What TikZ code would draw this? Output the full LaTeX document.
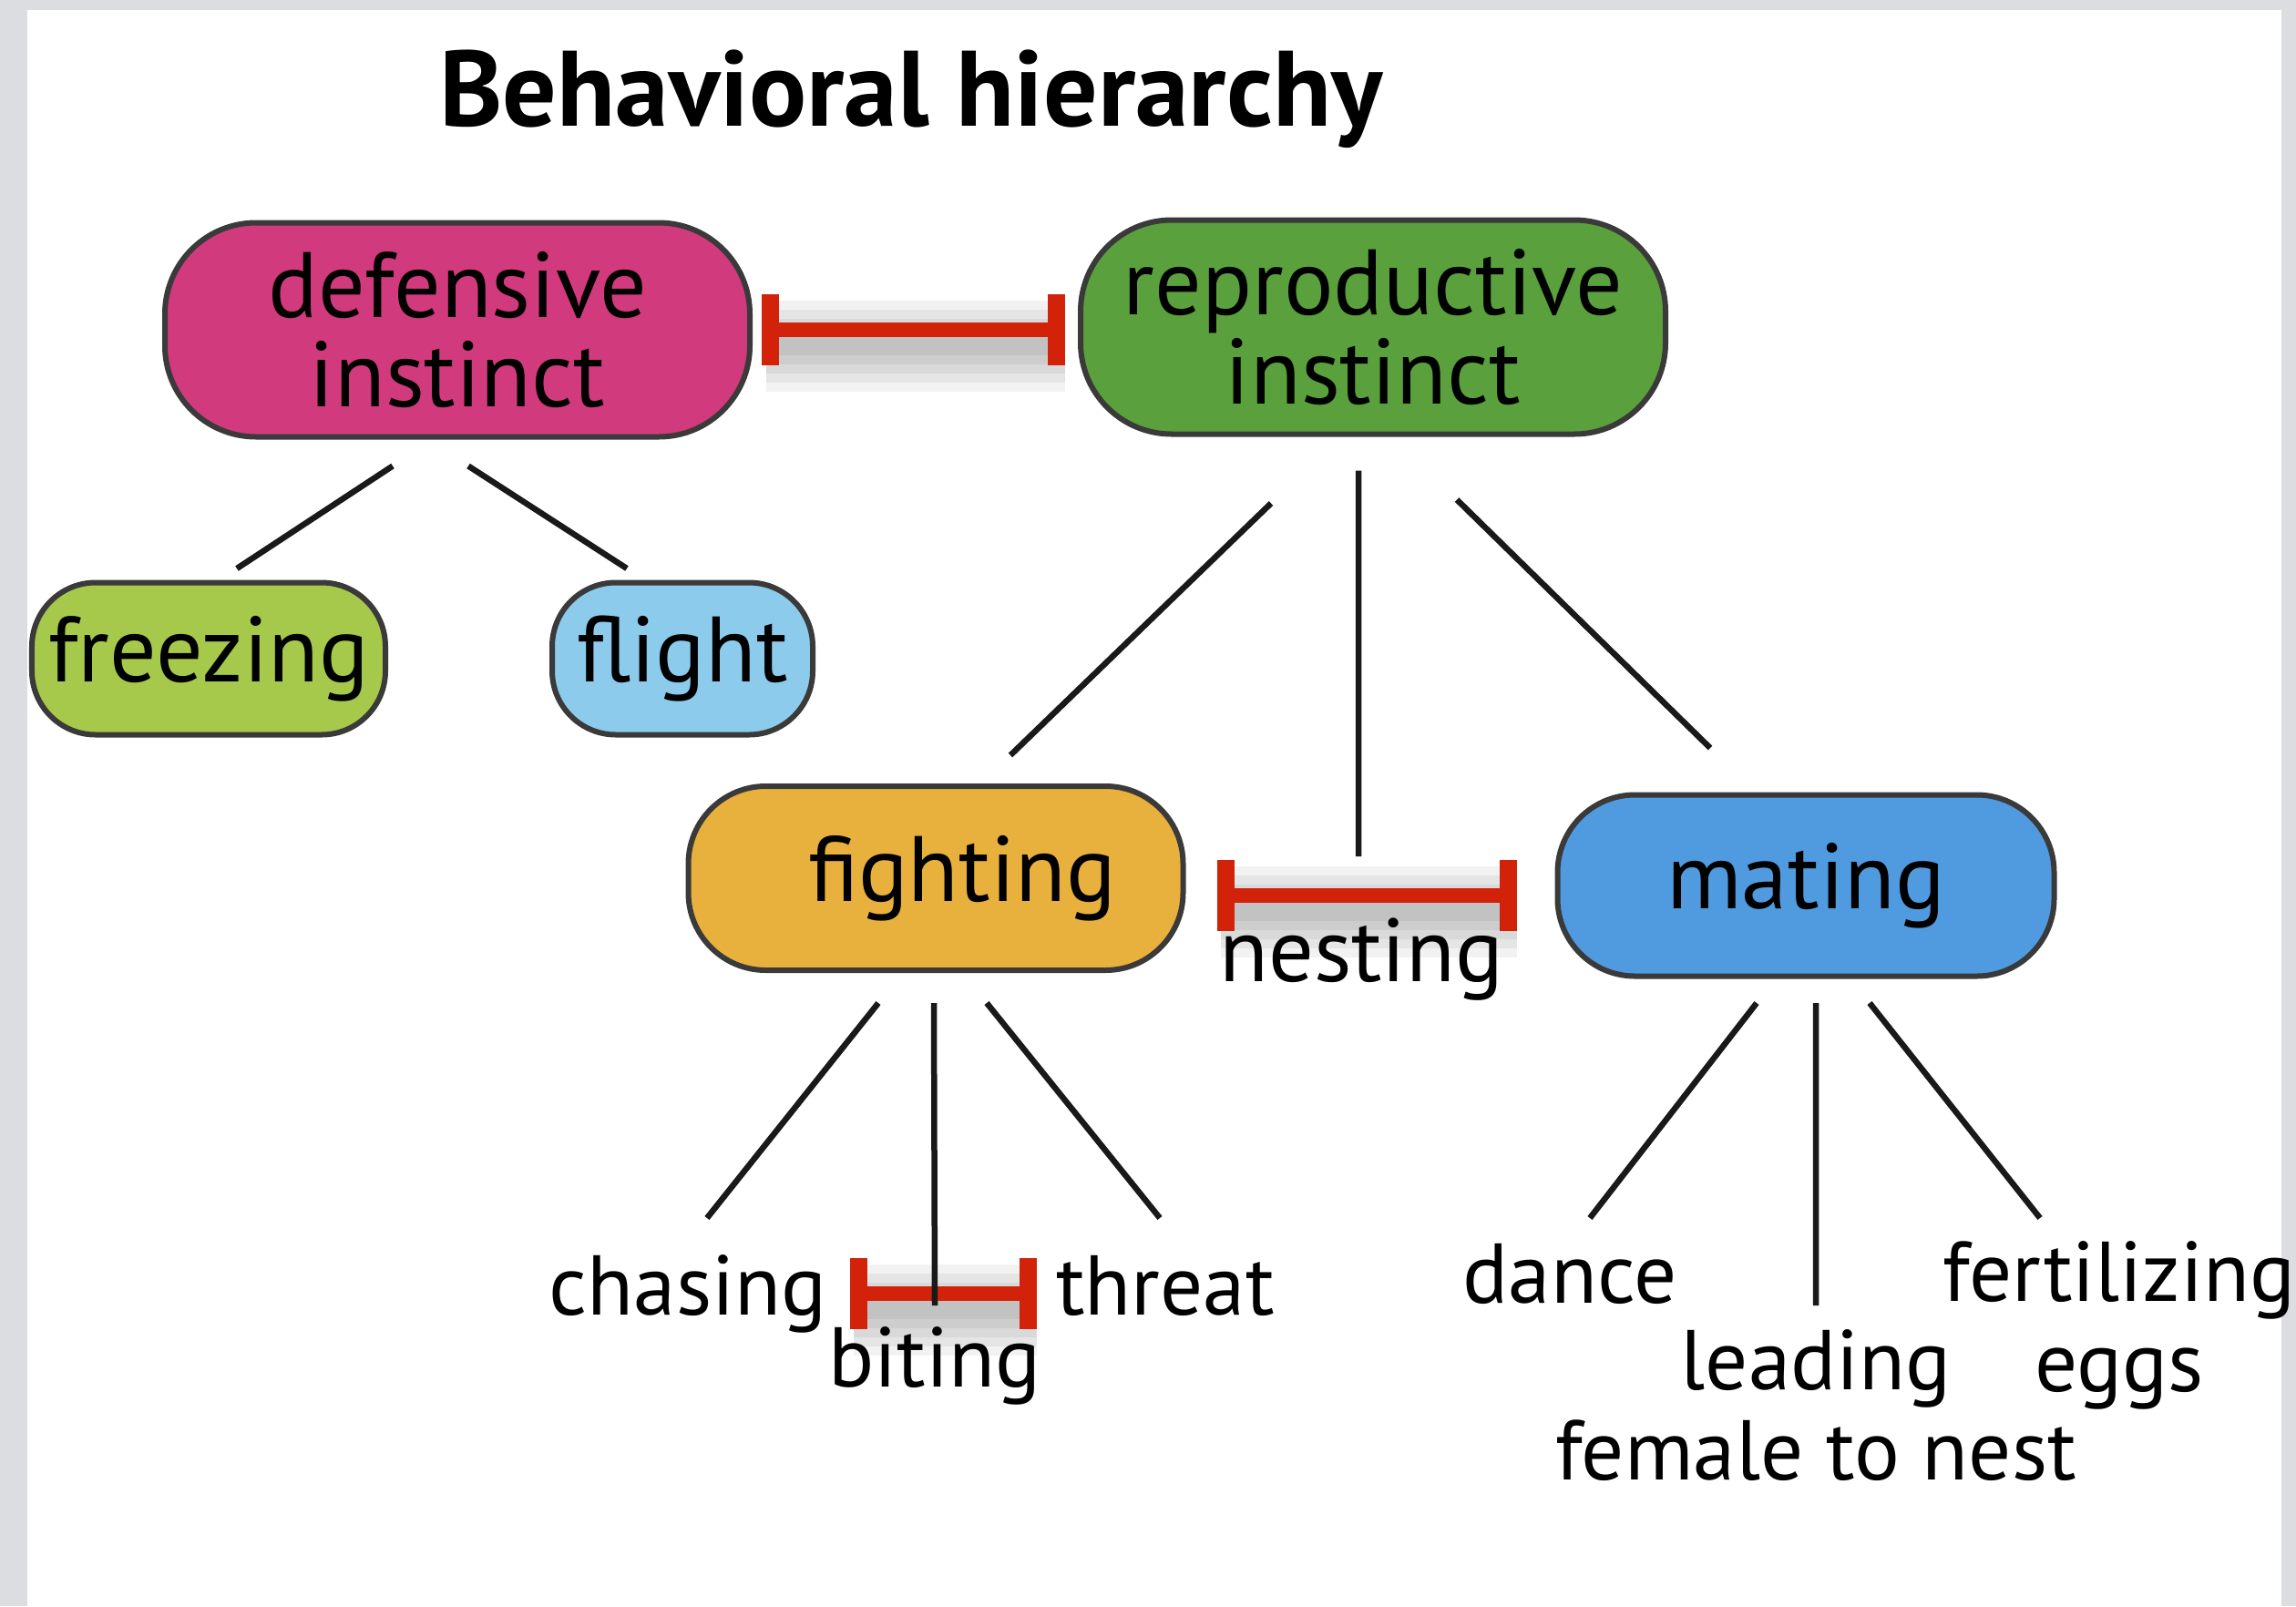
\documentclass[tikz,border=0pt]{standalone}
\usepackage{fontspec}
\setmainfont{PT Sans}
\usetikzlibrary{positioning, arrows.meta, shapes.geometric}

\definecolor{framegray}{HTML}{DCDDE0}
\definecolor{defcol}{HTML}{D13A7C}
\definecolor{repcol}{HTML}{5AA03C}
\definecolor{freezecol}{HTML}{A6C94C}
\definecolor{flightcol}{HTML}{8CCBEB}
\definecolor{fightcol}{HTML}{E8B03C}
\definecolor{matecol}{HTML}{509BE0}
\definecolor{barred}{HTML}{D2230A}
\definecolor{edge}{HTML}{3A3A3A}

\begin{document}
\begin{tikzpicture}[
    instinct/.style={rectangle, rounded corners=1cm, draw=edge, line width=0.6mm,
                 minimum width=6.42cm, minimum height=2.35cm, align=center, inner sep=0pt,
                 font=\fontsize{29}{28}\selectfont},
    behav/.style={rectangle, rounded corners=0.85cm, draw=edge, line width=0.6mm,
                 minimum height=2cm, inner sep=0pt, font=\fontsize{29}{28}\selectfont},
    act/.style={inner sep=0pt, anchor=base, font=\fontsize{26.5}{28}\selectfont},
    link/.style={draw=black!90, line width=0.65mm},
    inhibit/.style={draw=barred, line width=1.6mm,
                 {Bar[width=7.8mm, line width=1.9mm]}-{Bar[width=7.8mm, line width=1.9mm]}},
    barshade/.style={draw=black, opacity=0.05, line width=#1, transform canvas={yshift=-1.8mm}}
]
\useasboundingbox (0,0) rectangle (25.2,-17.63);

% --- Marco ---
\fill[framegray] (0,0) rectangle (25.2,-17.63);
\fill[white] (0.30,-0.11) rectangle (25.04,-17.63);

% --- Titulo ---
\node[act, font=\fontsize{33.5}{34}\selectfont\bfseries] (title) at (10.0,-1.38) {Behavioral hierarchy};

% --- Instintos ---
\node[instinct, fill=defcol] (defensive) at (5.02,-3.62) {defensive\\instinct};
\node[instinct, fill=repcol] (reproductive) at (15.07,-3.59) {reproductive\\instinct};

% --- Conductas ---
\node[behav, fill=freezecol, minimum width=3.88cm, minimum height=1.67cm, rounded corners=0.7cm] (freezing) at (2.29,-7.23) {freezing};
\node[behav, fill=flightcol, minimum width=2.86cm, minimum height=1.67cm, rounded corners=0.7cm] (flight) at (7.49,-7.23) {flight};
\node[behav, fill=fightcol, minimum width=5.43cm, minimum height=2.02cm] (fighting) at (10.27,-9.64) {\hspace*{0.58cm}fighting};
\node[behav, fill=matecol, minimum width=5.45cm, minimum height=1.99cm] (mating) at (19.82,-9.72) {mating};

% --- Actos ---
\node[act, font=\fontsize{28}{28}\selectfont] (nesting) at (14.94,-10.77) {nesting};
\node[act] (chasing) at (7.55,-14.43) {chasing};
\node[act] (biting) at (10.26,-15.22) {biting};
\node[act] (threat) at (12.79,-14.43) {threat};
\node[act] (dance) at (17.23,-14.30) {dance};
\node[act, anchor=north, align=center] (leading) at (19.93,-14.59) {leading\\female to nest};
\node[act, anchor=north, align=center] (fertilizing) at (23.26,-13.62) {fertilizing\\eggs};

% --- Inhibiciones ---
\foreach \w in {2,4,6,8,10} {
  \draw[barshade=\w mm] ([xshift=1.5mm]defensive.east) -- ([xshift=-1.4mm]defensive.east -| reproductive.west);
  \draw[barshade=\w mm] ([shift={(0.38,-0.19)}]fighting.east) -- ([shift={(-0.42,-0.19)}]fighting.east -| mating.west);
  \draw[barshade=\w mm] ([xshift=2.9mm]chasing.east) -- ([xshift=-2.1mm]chasing.east -| threat.west);
}
\draw[inhibit] ([xshift=1mm]defensive.east) -- ([xshift=-1.4mm]defensive.east -| reproductive.west);
\draw[inhibit] ([shift={(0.34,-0.19)}]fighting.east) -- ([shift={(-0.42,-0.19)}]fighting.east -| mating.west);
\draw[inhibit] ([xshift=2.5mm]chasing.east) -- ([xshift=-2.1mm]chasing.east -| threat.west);

% --- Jerarquia ---
\draw[link] ([shift={(-0.71,-0.29)}]defensive.south) -- ([shift={(0.31,0.125)}]freezing.north);
\draw[link] ([shift={(0.12,-0.29)}]defensive.south) -- ([shift={(-0.61,0.125)}]flight.north);

\draw[link] ([shift={(-1.12,-0.73)}]reproductive.south) -- ([shift={(0.82,0.31)}]fighting.north);
\draw[link] ([shift={(-0.16,-0.37)}]reproductive.south) -- ([shift={(-0.03,1.37)}]nesting.base);
\draw[link] ([shift={(0.92,-0.69)}]reproductive.south) -- ([shift={(-1.05,0.485)}]mating.north);

\draw[link] ([shift={(-0.63,-0.33)}]fighting.south) -- ([shift={(0.21,1.06)}]chasing.base);
\draw[link] ([shift={(-0.02,-0.33)}]fighting.south) -- ([shift={(0,0.89)}]biting.base);
\draw[link] ([shift={(0.56,-0.33)}]fighting.south) -- ([shift={(-0.06,1.06)}]threat.base);

\draw[link] ([shift={(-0.54,-0.265)}]mating.south) -- ([shift={(0.22,0.93)}]dance.base);
\draw[link] ([shift={(0.11,-0.265)}]mating.south) -- ([shift={(0,0.26)}]leading.north);
\draw[link] ([shift={(0.70,-0.265)}]mating.south) -- ([shift={(-0.87,0.25)}]fertilizing.north);

\end{tikzpicture}
\end{document}
